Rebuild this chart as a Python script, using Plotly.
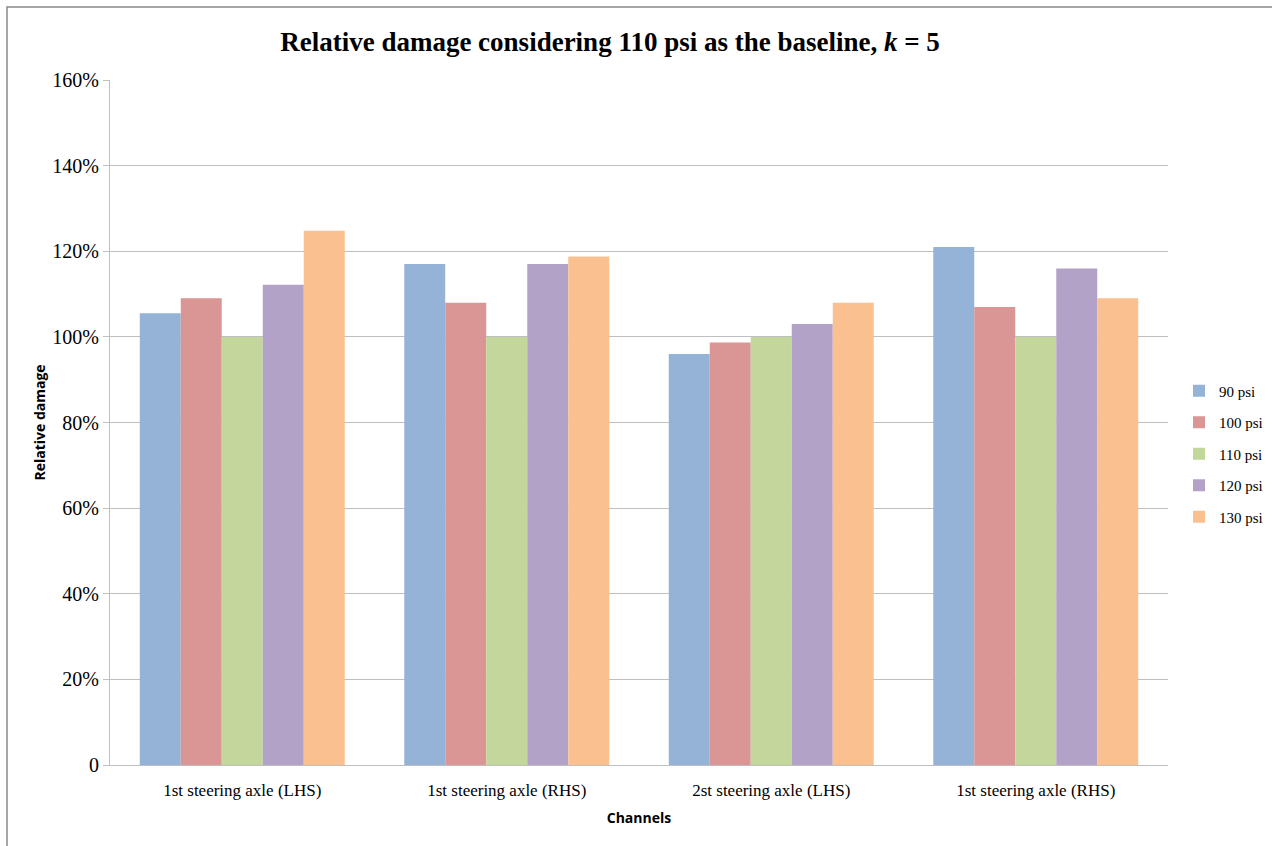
import plotly.graph_objects as go

categories = ["1st steering axle (LHS)", "1st steering axle (RHS)",
              "2st steering axle (LHS)", "1st steering axle (RHS)"]
series_names = ["90 psi", "100 psi", "110 psi", "120 psi", "130 psi"]
psi90 = [105.5, 117.0, 96.0, 121.0]
psi100 = [109.0, 108.0, 98.7, 107.0]
psi110 = [100.0, 100.0, 100.0, 100.0]
psi120 = [112.2, 117.0, 103.0, 116.0]
psi130 = [124.8, 118.8, 108.0, 109.0]
series_values = [psi90, psi100, psi110, psi120, psi130]
colors = ["#95B3D7", "#D99694", "#C3D69B", "#B2A2C7", "#FAC090"]
ytick_vals = [0, 20, 40, 60, 80, 100, 120, 140, 160]
ytick_text = ["0", "20%", "40%", "60%", "80%", "100%", "120%", "140%", "160%"]

W, H = 1272, 846
L, R, T, B = 110, 104, 80, 81
pw, ph = W - L - R, H - T - B


def px_x(px):
    return (px - L) / pw


def px_y(py):
    return (H - B - py) / ph


serif = "Liberation Serif, Times New Roman, serif"
sans = "Open Sans, Liberation Sans, sans-serif"

fig = go.Figure()
xs = list(range(len(categories)))
for name, vals, c in zip(series_names, series_values, colors):
    fig.add_trace(go.Bar(x=xs, y=vals, name=name, marker_color=c,
                         marker_line_width=0, legendgroup=name))

fig.update_layout(
    width=W, height=H,
    margin=dict(l=L, r=R, t=T, b=B, autoexpand=False),
    paper_bgcolor="white", plot_bgcolor="white",
    barmode="group", bargap=0.225, bargroupgap=0,
    title=dict(text="<b>Relative damage considering 110 psi as the baseline, <i>k</i> = 5</b>",
               font=dict(family=serif, size=27, color="black"),
               x=px_x(610), xref="paper", xanchor="center",
               y=1 - 42 / H, yref="container", yanchor="middle"),
    legend=dict(x=px_x(1179), xanchor="left", y=px_y(454), yanchor="middle",
                font=dict(family=serif, size=15, color="black"),
                traceorder="grouped", tracegroupgap=9, itemwidth=30,
                bgcolor="rgba(0,0,0,0)"),
    xaxis=dict(tickvals=xs, ticktext=categories, range=[-0.5, 3.5],
               showline=True, linecolor="#BFBFBF", linewidth=1,
               ticks="", showgrid=False, ticklabelstandoff=10,
               tickfont=dict(family=serif, size=17, color="black"),
               title=dict(text="<b>Channels</b>", font=dict(family=sans, size=14, color="black"),
                          standoff=13)),
    yaxis=dict(range=[0, 160], tickvals=ytick_vals, ticktext=ytick_text,
               showline=True, linecolor="#BFBFBF", linewidth=1,
               ticks="outside", ticklen=6, tickcolor="#BFBFBF",
               showgrid=True, gridcolor="#BFBFBF", gridwidth=1,
               zeroline=False,
               tickfont=dict(family=serif, size=20, color="black"),
               title=dict(text="<b>Relative damage</b>", font=dict(family=sans, size=14, color="black"),
                          standoff=3)),
)

# outer chart border (left and top edges visible; right/bottom run off the page)
fig.add_shape(type="rect", xref="paper", yref="paper",
              x0=px_x(7), x1=px_x(W + 10),
              y0=px_y(H + 10), y1=px_y(7),
              line=dict(color="#888888", width=1.5), fillcolor="rgba(0,0,0,0)", layer="below")

fig.write_html("out.html")
